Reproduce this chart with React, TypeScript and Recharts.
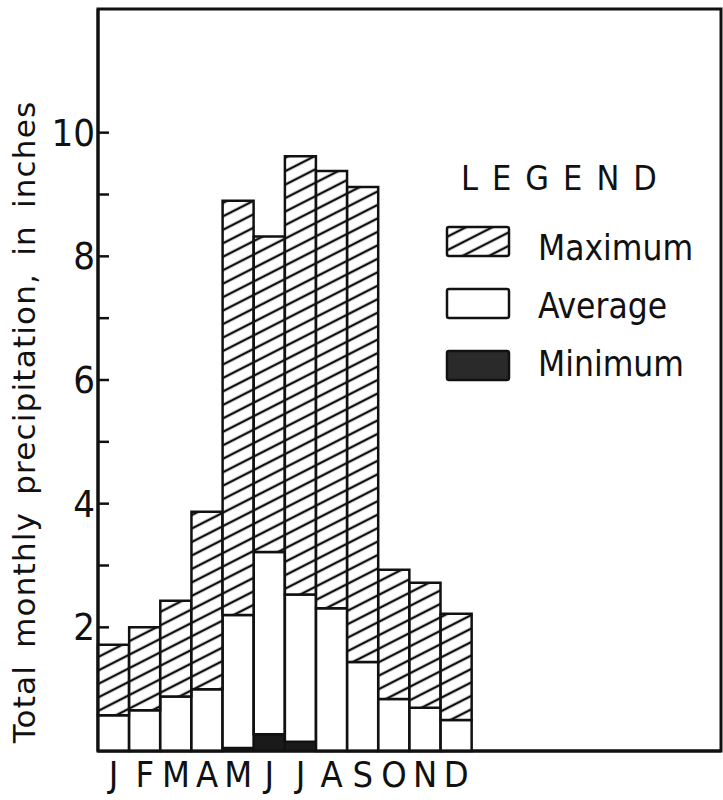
import React from 'react';
import {
  BarChart,
  Bar,
  XAxis,
  YAxis,
  ReferenceArea,
  Legend,
} from 'recharts';

const months = ['J', 'F', 'M', 'A', 'M', 'J', 'J', 'A', 'S', 'O', 'N', 'D'];
const maximum = [1.72, 2.0, 2.43, 3.87, 8.9, 8.32, 9.62, 9.38, 9.12, 2.93, 2.72, 2.22];
const average = [0.58, 0.66, 0.88, 1.0, 2.2, 3.22, 2.53, 2.31, 1.44, 0.84, 0.7, 0.5];
const minimum = [0, 0, 0, 0, 0.05, 0.27, 0.15, 0, 0, 0, 0, 0];
const yTicks = [2, 3, 4, 5, 6, 7, 8, 9, 10];
const emptySlots = 8;

const FONT = '"DejaVu Sans Condensed", "DejaVu Sans", sans-serif';
const INK = '#111';
const W = 723;
const H = 800;

// stacked pieces: minimum, then up to average, then up to maximum
const data = [
  ...months.map((m, i) => ({
    key: `m${i}`,
    label: m,
    min: minimum[i],
    avg: average[i] - minimum[i],
    max: maximum[i] - average[i],
  })),
  ...Array.from({ length: emptySlots }, (_, i) => ({ key: `p${i}`, label: '' })),
];
const labelByKey: Record<string, string> = {};
data.forEach((d) => (labelByKey[d.key] = d.label));

const YTick = ({ x, y, payload }: any) => (
  <g>
    <line x1={x} x2={x + 11} y1={y} y2={y} stroke={INK} strokeWidth={2.5} />
    {payload.value % 2 === 0 && (
      <text
        x={x - 3}
        y={y}
        textAnchor="end"
        dominantBaseline="central"
        fontFamily={FONT}
        fontSize={38}
        fill={INK}
      >
        {payload.value}
      </text>
    )}
  </g>
);

const legendOrder = ['Maximum', 'Average', 'Minimum'];

const LegendBox = () => (
  <svg width={W} height={H} style={{ position: 'absolute', left: 0, top: 0 }}>
    <defs>
      <pattern
        id="hatchLegend"
        patternUnits="userSpaceOnUse"
        width={12}
        height={12}
        patternTransform="rotate(-27)"
      >
        <rect width={12} height={12} fill="#fff" />
        <line x1={0} x2={12} y1={6} y2={6} stroke={INK} strokeWidth={2.4} />
      </pattern>
    </defs>
    <text x={461} y={190} fontFamily={FONT} fontSize={34} letterSpacing={14} fill={INK}>
      LEGEND
    </text>
    {legendOrder.map((name, i) => {
      const fill = name === 'Maximum' ? 'url(#hatchLegend)' : name === 'Average' ? '#fff' : '#2a2a2a';
      return (
        <g key={name}>
          <rect x={447} y={227 + i * 62} width={62} height={29} fill={fill} stroke={INK} strokeWidth={2.5} rx={2} />
          <text x={538} y={260 + i * 58} fontFamily={FONT} fontSize={35} fill={INK}>
            {name}
          </text>
        </g>
      );
    })}
  </svg>
);

export default function App() {
  return (
    <div style={{ position: 'absolute', left: 0, top: 0, width: W, height: H }}>
      <BarChart
        width={W}
        height={H}
        data={data}
        margin={{ top: 9, right: 2, bottom: 0, left: 0 }}
        barCategoryGap={0}
      >
        <defs>
          <pattern
            id="hatch"
            patternUnits="userSpaceOnUse"
            width={12}
            height={12}
            patternTransform="rotate(-27)"
          >
            <rect width={12} height={12} fill="#fff" />
            <line x1={0} x2={12} y1={6} y2={6} stroke={INK} strokeWidth={2.4} />
          </pattern>
        </defs>
        <XAxis
          dataKey="key"
          interval={0}
          tickLine={false}
          tickSize={0}
          tickMargin={10}
          height={49}
          axisLine={{ stroke: INK, strokeWidth: 3 }}
          tickFormatter={(v) => labelByKey[v]}
          tick={{ fontFamily: FONT, fontSize: 36, fill: INK }}
        />
        <YAxis
          domain={[0, 12]}
          ticks={yTicks}
          width={98}
          tickLine={false}
          tickSize={0}
          tickMargin={0}
          axisLine={{ stroke: INK, strokeWidth: 3 }}
          tick={<YTick />}
          label={{
            content: () => (
              <text
                x={35}
                y={422}
                transform="rotate(-90, 35, 422)"
                textAnchor="middle"
                fontFamily='"DejaVu Sans", sans-serif'
                fontSize={31}
                letterSpacing={1.2}
                wordSpacing={6}
                fill={INK}
              >
                Total monthly precipitation, in inches
              </text>
            ),
          }}
        />
        <Bar dataKey="min" name="Minimum" stackId="a" fill="#1a1a1a" stroke={INK} strokeWidth={2} isAnimationActive={false} />
        <Bar dataKey="avg" name="Average" stackId="a" fill="#fff" stroke={INK} strokeWidth={2.5} isAnimationActive={false} />
        <Bar dataKey="max" name="Maximum" stackId="a" fill="url(#hatch)" stroke={INK} strokeWidth={2.5} isAnimationActive={false} />
        <ReferenceArea x1="m0" x2="p7" y1={0} y2={12} fill="none" stroke={INK} strokeWidth={3} ifOverflow="visible" />
        <Legend
          layout="vertical"
          align="center"
          verticalAlign="middle"
          wrapperStyle={{ left: 0, top: 0, width: W, height: H }}
          content={() => <LegendBox />}
        />
      </BarChart>
    </div>
  );
}
